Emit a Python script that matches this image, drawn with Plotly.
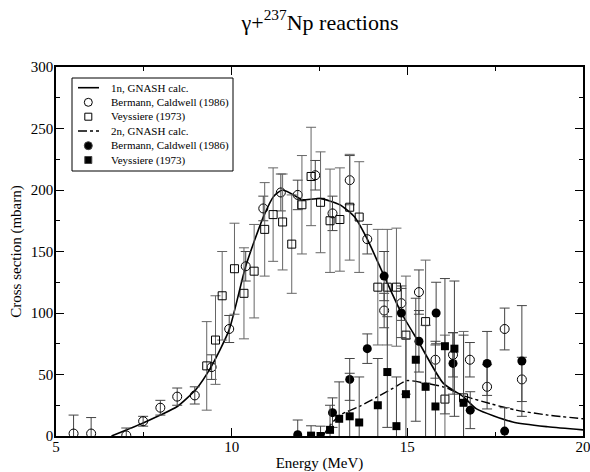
import plotly.graph_objects as go

# 1n: Bermann, Caldwell (1986) - open circles
bc1_e = [5.5, 6.0, 7.0, 7.48, 7.97, 8.45, 8.95, 9.43, 9.93, 10.4, 10.9, 11.4, 11.88,
         12.38, 12.87, 13.36, 13.86, 14.34, 14.83, 15.33, 15.8, 16.3, 16.78, 17.27, 17.77, 18.26]
bc1_s = [2, 2, 0.5, 12, 23, 32, 33, 56, 87, 138, 185, 198, 196,
         212, 181, 208, 160, 102, 108, 117, 62, 66, 62, 40, 87, 46]
bc1_err = [15, 13, 6, 4, 6, 7, 7, 10, 11, 12, 10, 15, 12,
           12, 14, 20, 12, 14, 14, 18, 15, 18, 14, 18, 17, 18]

# 1n: Veyssiere (1973) - open squares
vy1_e = [9.29, 9.54, 9.73, 10.08, 10.35, 10.64, 10.94, 11.18, 11.45, 11.71, 12.0, 12.26,
         12.53, 12.8, 13.08, 13.36, 13.63, 14.16, 14.43, 14.69, 14.96, 15.52, 16.07, 16.6]
vy1_s = [57, 78, 114, 136, 116, 134, 168, 180, 174, 156, 188, 211,
         190, 175, 176, 186, 178, 121, 121, 121, 82, 93, 30, 31]
vy1_err = [36, 36, 36, 37, 37, 38, 38, 38, 39, 40, 40, 40,
           41, 42, 42, 43, 45, 47, 47, 48, 48, 50, 52, 54]

# 2n: Bermann, Caldwell (1986) - filled circles
bc2_e = [11.88, 12.87, 13.36, 13.86, 14.34, 14.83, 15.33, 15.82, 16.3, 16.79, 17.27, 17.77, 18.26]
bc2_s = [1, 19, 46, 71, 130, 100, 77, 100, 59, 21, 59, 4, 61]
bc2_err = [12, 12, 17, 12, 20, 20, 25, 25, 25, 15, 26, 19, 45]

# 2n: Veyssiere (1973) - filled squares
vy2_e = [12.26, 12.53, 12.8, 13.06, 13.36, 13.63, 14.16, 14.43, 14.69, 14.96, 15.24,
         15.52, 15.8, 16.07, 16.34, 16.6]
vy2_s = [0.3, 0, 5, 14, 16, 11, 25, 52, 8, 34, 62, 40, 24, 73, 71, 27]
vy2_err = [8, 8, 20, 30, 35, 37, 38, 45, 40, 45, 50, 50, 50, 55, 55, 55]

# GNASH calculations
gn1_e = [6.58, 7.48, 7.97, 8.45, 9.0, 9.43, 9.93, 10.4, 10.9, 11.2, 11.45, 11.88, 12.0,
         12.53, 13.08, 13.5, 13.86, 14.34, 14.83, 15.33, 16.02, 16.59, 16.97, 18.0, 19.0, 20.0]
gn1_s = [0, 10.6, 17, 24, 38.5, 57, 86.5, 138, 178, 195, 200, 194, 192,
         193, 188, 178, 160, 130, 100, 76, 43, 32, 22, 11.4, 7.5, 5]
gn2_e = [12.6, 12.8, 13.08, 13.63, 14.16, 14.6, 14.98, 15.5, 16.02, 16.68, 17.4, 18.1, 19.0, 20.0]
gn2_s = [0, 8.7, 17, 24, 32, 39, 45, 43, 40, 32, 26, 21, 17, 14]

# legend entries (drawn by hand so the rows can be as tight as the original)
leg_labels = ['1n, GNASH calc.', 'Bermann, Caldwell (1986)', 'Veyssiere (1973)',
              '2n, GNASH calc.', 'Bermann, Caldwell (1986)', 'Veyssiere (1973)']

FONT = 'Liberation Serif, Times New Roman, serif'
BAR = '#444'

# plot area in pixels: x 56..583, y 67..436
W, H = 590, 472
L, R, T, B = 56, 7, 67, 36
PW, PH = W - L - R, H - T - B


def px(x):
    return (x - L) / PW


def py(y):
    return (H - B - y) / PH


fig = go.Figure()
fig.add_trace(go.Scatter(x=gn1_e, y=gn1_s, mode='lines', showlegend=False,
                         line=dict(color='black', width=1.6, shape='spline', smoothing=0.6)))
fig.add_trace(go.Scatter(x=bc1_e, y=bc1_s, mode='markers', showlegend=False,
                         marker=dict(symbol='circle-open', size=9, color='black', line=dict(width=1)),
                         error_y=dict(type='data', array=bc1_err, color=BAR, thickness=1, width=5)))
fig.add_trace(go.Scatter(x=vy1_e, y=vy1_s, mode='markers', showlegend=False,
                         marker=dict(symbol='square-open', size=8, color='black', line=dict(width=1)),
                         error_y=dict(type='data', array=vy1_err, color='#666', thickness=1, width=5)))
fig.add_trace(go.Scatter(x=gn2_e, y=gn2_s, mode='lines', showlegend=False,
                         line=dict(color='black', width=1.4, dash='dashdot', shape='spline', smoothing=0.6)))
fig.add_trace(go.Scatter(x=bc2_e, y=bc2_s, mode='markers', showlegend=False,
                         marker=dict(symbol='circle', size=9, color='black'),
                         error_y=dict(type='data', array=bc2_err, color=BAR, thickness=1, width=5)))
fig.add_trace(go.Scatter(x=vy2_e, y=vy2_s, mode='markers', showlegend=False,
                         marker=dict(symbol='square', size=8, color='black'),
                         error_y=dict(type='data', array=vy2_err, color=BAR, thickness=1, width=5)))

# legend box
row_y = [87.7, 102.3, 116.7, 131.0, 145.7, 160.0]
sym_x = 88.3
shapes = [dict(type='rect', xref='paper', yref='paper', x0=px(72), x1=px(233),
               y0=py(171), y1=py(78), line=dict(color='black', width=1), fillcolor='white',
               layer='below')]
shapes.append(dict(type='line', xref='paper', yref='paper', x0=px(78), x1=px(99),
                   y0=py(row_y[0]), y1=py(row_y[0]), line=dict(color='black', width=1.6)))
shapes.append(dict(type='line', xref='paper', yref='paper', x0=px(78), x1=px(99),
                   y0=py(row_y[3]), y1=py(row_y[3]), line=dict(color='black', width=1.4, dash='dashdot')))
leg_syms = [('circle-open', 8), ('square-open', 7), ('circle', 8), ('square', 7)]
leg_rows = [row_y[1], row_y[2], row_y[4], row_y[5]]
for (sym, sz), ry in zip(leg_syms, leg_rows):
    fig.add_trace(go.Scatter(x=[px(sym_x)], y=[py(ry)], xaxis='x2', yaxis='y2', mode='markers',
                             showlegend=False, hoverinfo='skip',
                             marker=dict(symbol=sym, size=sz, color='black', line=dict(width=1))))

annotations = []
for lab, ry in zip(leg_labels, row_y):
    annotations.append(dict(text=lab, xref='paper', yref='paper', x=px(109), y=py(ry),
                            xanchor='left', yanchor='middle', showarrow=False,
                            font=dict(family=FONT, size=11, color='black')))

axis_common = dict(showline=True, linecolor='black', linewidth=1.5, mirror='ticks',
                   ticks='inside', ticklen=8, tickcolor='black', showgrid=False, zeroline=False,
                   automargin=False, ticklabeloverflow='allow',
                   tickfont=dict(family=FONT, size=15, color='black'))

fig.update_xaxes(range=[5, 20], dtick=5, ticklabelstandoff=-4,
                 title=dict(text='Energy (MeV)', standoff=4,
                            font=dict(family=FONT, size=15, color='black')),
                 minor=dict(ticks='inside', ticklen=4, dtick=2.5, tickcolor='black'), **axis_common)
fig.update_yaxes(range=[0, 300], dtick=50, ticklabelstandoff=-2,
                 title=dict(text='Cross section (mbarn)', standoff=6,
                            font=dict(family=FONT, size=15, color='black')),
                 minor=dict(ticks='inside', ticklen=4, dtick=25, tickcolor='black'), **axis_common)

fig.update_layout(
    width=W, height=H,
    margin=dict(l=L, r=R, t=T, b=B),
    paper_bgcolor='white', plot_bgcolor='white',
    showlegend=False,
    xaxis2=dict(overlaying='x', range=[0, 1], visible=False),
    yaxis2=dict(overlaying='y', range=[0, 1], visible=False),
    shapes=shapes,
    annotations=annotations,
    title=dict(text='γ+<sup>237</sup>Np reactions', x=320 / W, xanchor='center',
               y=1 - 22 / H, yanchor='middle', yref='container',
               font=dict(family=FONT, size=22, color='black')),
    font=dict(family=FONT, color='black'),
)

# the page body has an 8px margin by default; drop it so the figure sits at the window corner
fig.write_html('out.html', config={'displayModeBar': False},
               post_script="document.body.style.margin='0px';")
